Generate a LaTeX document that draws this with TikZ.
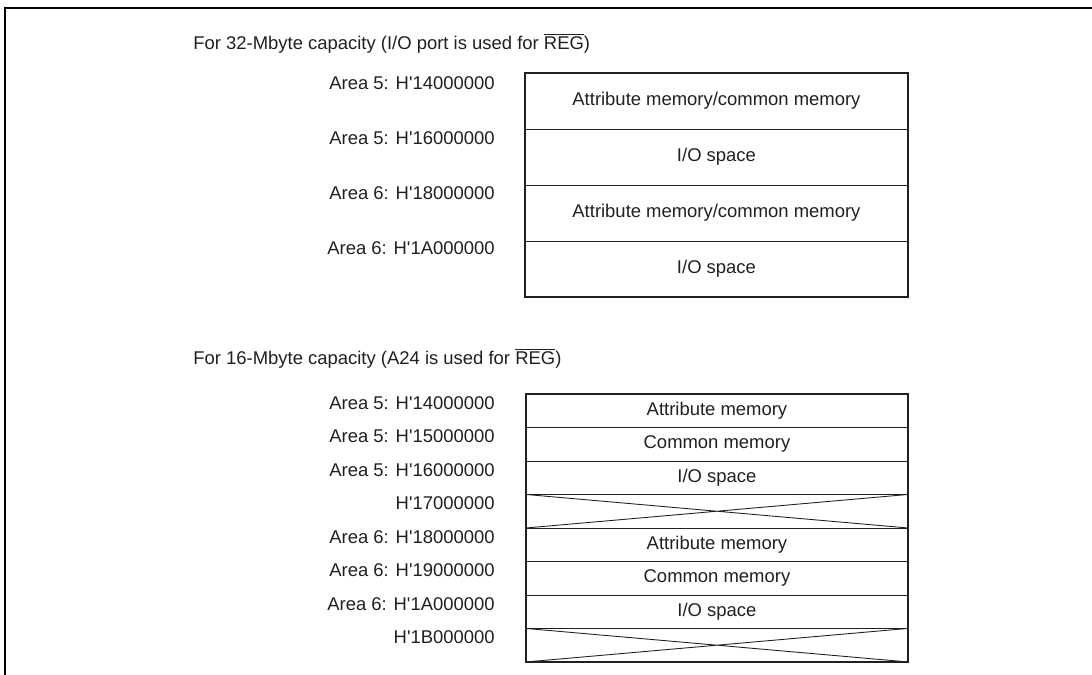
\documentclass[tikz,border=0pt]{standalone}
\usepackage{fontspec}
\setmainfont{Liberation Sans}
\usepackage{tikz}
\usetikzlibrary{positioning, calc}
\definecolor{myink}{RGB}{35,31,32}
\newcommand{\hx}{H\textquotesingle}
\tikzset{
  bigcell/.style={rectangle, draw=myink, line width=0.5pt, text=myink,
    minimum width=7.66cm, minimum height=1.12cm, inner sep=0pt, outer sep=0pt,
    font=\fontsize{10.5}{12}\selectfont},
  smallcell/.style={rectangle, draw=myink, line width=0.5pt, text=myink,
    minimum width=7.64cm, minimum height=0.67cm, inner sep=0pt, outer sep=0pt,
    font=\fontsize{10.5}{12}\selectfont},
  addr/.style={anchor=east, inner sep=0pt, text=myink,
    font=\fontsize{10.5}{12}\selectfont},
  title/.style={anchor=west, inner sep=0pt, text=myink,
    font=\fontsize{10.5}{12}\selectfont},
  outline/.style={draw=myink, line width=1.1pt},
  crossline/.style={draw=myink, line width=0.5pt},
  frame/.style={draw=black, line width=1.2pt}
}

\begin{document}
\begin{tikzpicture}[x=0.02cm, y=-0.02cm]
  \useasboundingbox (0,0) rectangle (1092,675);
  \draw[frame] (1092,8) -- (5,8) -- (5,675);

  % 32-Mbyte map
  \node[title] (t32) at (193,43) {For 32-Mbyte capacity (I/O port is used for $\overline{\mbox{REG}}$)};
  \node[bigcell, anchor=north west] (a1) at (525,73) {Attribute memory/common memory};
  \node[bigcell, below=0pt of a1] (a2) {I/O space};
  \node[bigcell, below=0pt of a2] (a3) {Attribute memory/common memory};
  \node[bigcell, below=0pt of a3] (a4) {I/O space};
  \draw[outline] (a1.north west) rectangle (a4.south east);

  \node[addr] (la1) at ($(a1.north west)+(-30,10.5)$) {Area 5: \hx 14000000};
  \node[addr] (la2) at ($(a2.north west)+(-30,9.5)$) {Area 5: \hx 16000000};
  \node[addr] (la3) at ($(a3.north west)+(-30,8.5)$) {Area 6: \hx 18000000};
  \node[addr] (la4) at ($(a4.north west)+(-30,7.5)$) {Area 6: \hx 1A000000};

  % 16-Mbyte map
  \node[title] (t16) at (193,358) {For 16-Mbyte capacity (A24 is used for $\overline{\mbox{REG}}$)};
  \node[smallcell, anchor=north west] (b1) at (526,394) {Attribute memory};
  \node[smallcell, below=0pt of b1] (b2) {Common memory};
  \node[smallcell, below=0pt of b2] (b3) {I/O space};
  \node[smallcell, below=0pt of b3] (b4) {};
  \node[smallcell, below=0pt of b4] (b5) {Attribute memory};
  \node[smallcell, below=0pt of b5] (b6) {Common memory};
  \node[smallcell, below=0pt of b6] (b7) {I/O space};
  \node[smallcell, below=0pt of b7] (b8) {};
  \draw[crossline] (b4.north west) -- (b4.south east) (b4.south west) -- (b4.north east);
  \draw[crossline] (b8.north west) -- (b8.south east) (b8.south west) -- (b8.north east);
  \draw[outline] (b1.north west) rectangle (b8.south east);

  \node[addr] (lb1) at ($(b1.north west)+(-31,9)$) {Area 5: \hx 14000000};
  \node[addr] (lb2) at ($(b2.north west)+(-31,9)$) {Area 5: \hx 15000000};
  \node[addr] (lb3) at ($(b3.north west)+(-31,9)$) {Area 5: \hx 16000000};
  \node[addr] (lb4) at ($(b4.north west)+(-31,9)$) {\hx 17000000};
  \node[addr] (lb5) at ($(b5.north west)+(-31,9)$) {Area 6: \hx 18000000};
  \node[addr] (lb6) at ($(b6.north west)+(-31,9)$) {Area 6: \hx 19000000};
  \node[addr] (lb7) at ($(b7.north west)+(-31,9)$) {Area 6: \hx 1A000000};
  \node[addr] (lb8) at ($(b8.north west)+(-31,9)$) {\hx 1B000000};
\end{tikzpicture}
\end{document}
